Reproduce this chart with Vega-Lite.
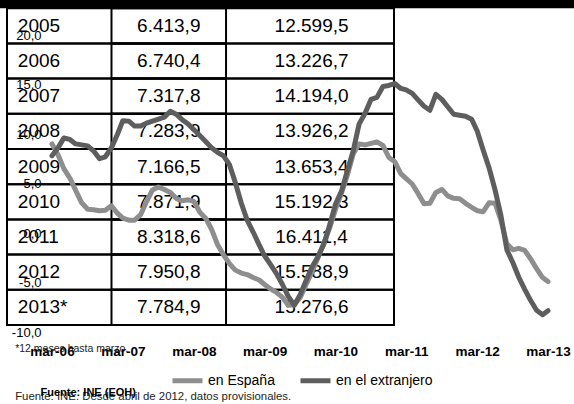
{
  "$schema": "https://vega.github.io/schema/vega-lite/v6.json",
  "width": 496,
  "height": 297,
  "autosize": {"type": "none"},
  "padding": {"left": 52, "top": 35, "right": 26, "bottom": 72},
  "background": "white",
  "config": {"view": {"stroke": null}},
  "datasets": {
    "tabla": [
      {"periodo": "2005", "espana": "6.413,9", "extranjero": "12.599,5"},
      {"periodo": "2006", "espana": "6.740,4", "extranjero": "13.226,7"},
      {"periodo": "2007", "espana": "7.317,8", "extranjero": "14.194,0"},
      {"periodo": "2008", "espana": "7.283,9", "extranjero": "13.926,2"},
      {"periodo": "2009", "espana": "7.166,5", "extranjero": "13.653,4"},
      {"periodo": "2010", "espana": "7.871,9", "extranjero": "15.192,3"},
      {"periodo": "2011", "espana": "8.318,6", "extranjero": "16.411,4"},
      {"periodo": "2012", "espana": "7.950,8", "extranjero": "15.588,9"},
      {"periodo": "2013*", "espana": "7.784,9", "extranjero": "15.276,6"}
    ],
    "series": [
      {"mes": "2006-03", "serie": "en España", "valor": 9.0},
      {"mes": "2006-04", "serie": "en España", "valor": 7.9},
      {"mes": "2006-05", "serie": "en España", "valor": 6.5},
      {"mes": "2006-06", "serie": "en España", "valor": 5.55},
      {"mes": "2006-07", "serie": "en España", "valor": 4.3},
      {"mes": "2006-08", "serie": "en España", "valor": 3.05},
      {"mes": "2006-09", "serie": "en España", "valor": 2.4},
      {"mes": "2006-10", "serie": "en España", "valor": 2.35},
      {"mes": "2006-11", "serie": "en España", "valor": 2.25},
      {"mes": "2006-12", "serie": "en España", "valor": 2.3},
      {"mes": "2007-01", "serie": "en España", "valor": 2.75},
      {"mes": "2007-02", "serie": "en España", "valor": 2.0},
      {"mes": "2007-03", "serie": "en España", "valor": 1.5},
      {"mes": "2007-04", "serie": "en España", "valor": 1.3},
      {"mes": "2007-05", "serie": "en España", "valor": 1.3},
      {"mes": "2007-06", "serie": "en España", "valor": 1.85},
      {"mes": "2007-07", "serie": "en España", "valor": 3.15},
      {"mes": "2007-08", "serie": "en España", "valor": 4.35},
      {"mes": "2007-09", "serie": "en España", "valor": 4.65},
      {"mes": "2007-10", "serie": "en España", "valor": 4.4},
      {"mes": "2007-11", "serie": "en España", "valor": 4.1},
      {"mes": "2007-12", "serie": "en España", "valor": 3.5},
      {"mes": "2008-01", "serie": "en España", "valor": 3.25},
      {"mes": "2008-02", "serie": "en España", "valor": 3.35},
      {"mes": "2008-03", "serie": "en España", "valor": 3.2},
      {"mes": "2008-04", "serie": "en España", "valor": 2.1},
      {"mes": "2008-05", "serie": "en España", "valor": 1.5},
      {"mes": "2008-06", "serie": "en España", "valor": 0.35},
      {"mes": "2008-07", "serie": "en España", "valor": -1.15},
      {"mes": "2008-08", "serie": "en España", "valor": -2.2},
      {"mes": "2008-09", "serie": "en España", "valor": -3.1},
      {"mes": "2008-10", "serie": "en España", "valor": -3.75},
      {"mes": "2008-11", "serie": "en España", "valor": -4.05},
      {"mes": "2008-12", "serie": "en España", "valor": -4.2},
      {"mes": "2009-01", "serie": "en España", "valor": -4.5},
      {"mes": "2009-02", "serie": "en España", "valor": -4.75},
      {"mes": "2009-03", "serie": "en España", "valor": -5.2},
      {"mes": "2009-04", "serie": "en España", "valor": -5.65},
      {"mes": "2009-05", "serie": "en España", "valor": -6.0},
      {"mes": "2009-06", "serie": "en España", "valor": -6.5},
      {"mes": "2009-07", "serie": "en España", "valor": -7.3},
      {"mes": "2009-08", "serie": "en España", "valor": -7.25},
      {"mes": "2009-09", "serie": "en España", "valor": -6.5},
      {"mes": "2009-10", "serie": "en España", "valor": -5.2},
      {"mes": "2009-11", "serie": "en España", "valor": -3.9},
      {"mes": "2009-12", "serie": "en España", "valor": -2.5},
      {"mes": "2010-01", "serie": "en España", "valor": -1.0},
      {"mes": "2010-02", "serie": "en España", "valor": 0.6},
      {"mes": "2010-03", "serie": "en España", "valor": 2.35},
      {"mes": "2010-04", "serie": "en España", "valor": 4.0},
      {"mes": "2010-05", "serie": "en España", "valor": 5.8},
      {"mes": "2010-06", "serie": "en España", "valor": 8.0},
      {"mes": "2010-07", "serie": "en España", "valor": 9.0},
      {"mes": "2010-08", "serie": "en España", "valor": 8.9},
      {"mes": "2010-09", "serie": "en España", "valor": 9.05},
      {"mes": "2010-10", "serie": "en España", "valor": 9.2},
      {"mes": "2010-11", "serie": "en España", "valor": 8.85},
      {"mes": "2010-12", "serie": "en España", "valor": 7.65},
      {"mes": "2011-01", "serie": "en España", "valor": 7.2},
      {"mes": "2011-02", "serie": "en España", "valor": 6.0},
      {"mes": "2011-03", "serie": "en España", "valor": 5.5},
      {"mes": "2011-04", "serie": "en España", "valor": 4.95},
      {"mes": "2011-05", "serie": "en España", "valor": 4.0},
      {"mes": "2011-06", "serie": "en España", "valor": 2.95},
      {"mes": "2011-07", "serie": "en España", "valor": 3.0},
      {"mes": "2011-08", "serie": "en España", "valor": 4.1},
      {"mes": "2011-09", "serie": "en España", "valor": 4.4},
      {"mes": "2011-10", "serie": "en España", "valor": 3.75},
      {"mes": "2011-11", "serie": "en España", "valor": 3.5},
      {"mes": "2011-12", "serie": "en España", "valor": 3.45},
      {"mes": "2012-01", "serie": "en España", "valor": 3.0},
      {"mes": "2012-02", "serie": "en España", "valor": 2.6},
      {"mes": "2012-03", "serie": "en España", "valor": 2.25},
      {"mes": "2012-04", "serie": "en España", "valor": 2.15},
      {"mes": "2012-05", "serie": "en España", "valor": 3.05},
      {"mes": "2012-06", "serie": "en España", "valor": 3.0},
      {"mes": "2012-07", "serie": "en España", "valor": 1.3},
      {"mes": "2012-08", "serie": "en España", "valor": -1.1},
      {"mes": "2012-09", "serie": "en España", "valor": -1.7},
      {"mes": "2012-10", "serie": "en España", "valor": -1.55},
      {"mes": "2012-11", "serie": "en España", "valor": -1.75},
      {"mes": "2012-12", "serie": "en España", "valor": -2.6},
      {"mes": "2013-01", "serie": "en España", "valor": -3.6},
      {"mes": "2013-02", "serie": "en España", "valor": -4.5},
      {"mes": "2013-03", "serie": "en España", "valor": -4.9},
      {"mes": "2006-03", "serie": "en el extranjero", "valor": 7.8},
      {"mes": "2006-04", "serie": "en el extranjero", "valor": 8.6},
      {"mes": "2006-05", "serie": "en el extranjero", "valor": 9.6},
      {"mes": "2006-06", "serie": "en el extranjero", "valor": 9.45},
      {"mes": "2006-07", "serie": "en el extranjero", "valor": 9.0},
      {"mes": "2006-08", "serie": "en el extranjero", "valor": 8.9},
      {"mes": "2006-09", "serie": "en el extranjero", "valor": 8.8},
      {"mes": "2006-10", "serie": "en el extranjero", "valor": 8.3},
      {"mes": "2006-11", "serie": "en el extranjero", "valor": 7.5},
      {"mes": "2006-12", "serie": "en el extranjero", "valor": 7.7},
      {"mes": "2007-01", "serie": "en el extranjero", "valor": 8.6},
      {"mes": "2007-02", "serie": "en el extranjero", "valor": 9.95},
      {"mes": "2007-03", "serie": "en el extranjero", "valor": 11.35},
      {"mes": "2007-04", "serie": "en el extranjero", "valor": 11.3},
      {"mes": "2007-05", "serie": "en el extranjero", "valor": 10.8},
      {"mes": "2007-06", "serie": "en el extranjero", "valor": 10.8},
      {"mes": "2007-07", "serie": "en el extranjero", "valor": 11.1},
      {"mes": "2007-08", "serie": "en el extranjero", "valor": 11.3},
      {"mes": "2007-09", "serie": "en el extranjero", "valor": 11.5},
      {"mes": "2007-10", "serie": "en el extranjero", "valor": 11.7},
      {"mes": "2007-11", "serie": "en el extranjero", "valor": 12.3},
      {"mes": "2007-12", "serie": "en el extranjero", "valor": 12.0},
      {"mes": "2008-01", "serie": "en el extranjero", "valor": 11.45},
      {"mes": "2008-02", "serie": "en el extranjero", "valor": 11.0},
      {"mes": "2008-03", "serie": "en el extranjero", "valor": 10.45},
      {"mes": "2008-04", "serie": "en el extranjero", "valor": 9.85},
      {"mes": "2008-05", "serie": "en el extranjero", "valor": 9.25},
      {"mes": "2008-06", "serie": "en el extranjero", "valor": 8.6},
      {"mes": "2008-07", "serie": "en el extranjero", "valor": 8.15},
      {"mes": "2008-08", "serie": "en el extranjero", "valor": 7.8},
      {"mes": "2008-09", "serie": "en el extranjero", "valor": 6.9},
      {"mes": "2008-10", "serie": "en el extranjero", "valor": 5.1},
      {"mes": "2008-11", "serie": "en el extranjero", "valor": 3.0},
      {"mes": "2008-12", "serie": "en el extranjero", "valor": 1.3},
      {"mes": "2009-01", "serie": "en el extranjero", "valor": 0.1},
      {"mes": "2009-02", "serie": "en el extranjero", "valor": -1.2},
      {"mes": "2009-03", "serie": "en el extranjero", "valor": -2.3},
      {"mes": "2009-04", "serie": "en el extranjero", "valor": -3.2},
      {"mes": "2009-05", "serie": "en el extranjero", "valor": -4.1},
      {"mes": "2009-06", "serie": "en el extranjero", "valor": -5.2},
      {"mes": "2009-07", "serie": "en el extranjero", "valor": -6.4},
      {"mes": "2009-08", "serie": "en el extranjero", "valor": -7.3},
      {"mes": "2009-09", "serie": "en el extranjero", "valor": -6.2},
      {"mes": "2009-10", "serie": "en el extranjero", "valor": -4.8},
      {"mes": "2009-11", "serie": "en el extranjero", "valor": -3.4},
      {"mes": "2009-12", "serie": "en el extranjero", "valor": -2.4},
      {"mes": "2010-01", "serie": "en el extranjero", "valor": -1.1},
      {"mes": "2010-02", "serie": "en el extranjero", "valor": 0.9},
      {"mes": "2010-03", "serie": "en el extranjero", "valor": 2.9},
      {"mes": "2010-04", "serie": "en el extranjero", "valor": 4.2},
      {"mes": "2010-05", "serie": "en el extranjero", "valor": 6.25},
      {"mes": "2010-06", "serie": "en el extranjero", "valor": 8.3},
      {"mes": "2010-07", "serie": "en el extranjero", "valor": 11.0},
      {"mes": "2010-08", "serie": "en el extranjero", "valor": 12.1},
      {"mes": "2010-09", "serie": "en el extranjero", "valor": 13.5},
      {"mes": "2010-10", "serie": "en el extranjero", "valor": 13.7},
      {"mes": "2010-11", "serie": "en el extranjero", "valor": 14.8},
      {"mes": "2010-12", "serie": "en el extranjero", "valor": 14.9},
      {"mes": "2011-01", "serie": "en el extranjero", "valor": 15.1},
      {"mes": "2011-02", "serie": "en el extranjero", "valor": 14.6},
      {"mes": "2011-03", "serie": "en el extranjero", "valor": 14.45},
      {"mes": "2011-04", "serie": "en el extranjero", "valor": 14.1},
      {"mes": "2011-05", "serie": "en el extranjero", "valor": 13.45},
      {"mes": "2011-06", "serie": "en el extranjero", "valor": 12.8},
      {"mes": "2011-07", "serie": "en el extranjero", "valor": 12.4},
      {"mes": "2011-08", "serie": "en el extranjero", "valor": 14.0},
      {"mes": "2011-09", "serie": "en el extranjero", "valor": 13.5},
      {"mes": "2011-10", "serie": "en el extranjero", "valor": 12.75},
      {"mes": "2011-11", "serie": "en el extranjero", "valor": 12.0},
      {"mes": "2011-12", "serie": "en el extranjero", "valor": 11.9},
      {"mes": "2012-01", "serie": "en el extranjero", "valor": 11.8},
      {"mes": "2012-02", "serie": "en el extranjero", "valor": 11.5},
      {"mes": "2012-03", "serie": "en el extranjero", "valor": 10.3},
      {"mes": "2012-04", "serie": "en el extranjero", "valor": 8.35},
      {"mes": "2012-05", "serie": "en el extranjero", "valor": 6.6},
      {"mes": "2012-06", "serie": "en el extranjero", "valor": 4.35},
      {"mes": "2012-07", "serie": "en el extranjero", "valor": 1.8},
      {"mes": "2012-08", "serie": "en el extranjero", "valor": -1.7},
      {"mes": "2012-09", "serie": "en el extranjero", "valor": -3.0},
      {"mes": "2012-10", "serie": "en el extranjero", "valor": -4.45},
      {"mes": "2012-11", "serie": "en el extranjero", "valor": -5.7},
      {"mes": "2012-12", "serie": "en el extranjero", "valor": -6.8},
      {"mes": "2013-01", "serie": "en el extranjero", "valor": -7.8},
      {"mes": "2013-02", "serie": "en el extranjero", "valor": -8.25},
      {"mes": "2013-03", "serie": "en el extranjero", "valor": -7.85}
    ]
  },
  "resolve": {"scale": {"x": "independent", "y": "independent"}},
  "layer": [
    {
      "data": {"name": "tabla"},
      "encoding": {
        "y": {
          "field": "periodo",
          "type": "nominal",
          "sort": null,
          "axis": null,
          "scale": {
            "domain": ["cabecera", "2005", "2006", "2007", "2008", "2009", "2010", "2011", "2012", "2013*"],
            "range": [-62, 290],
            "paddingInner": 0,
            "paddingOuter": 0
          }
        }
      },
      "layer": [
        {
          "mark": {"type": "rect", "filled": false, "stroke": "black", "strokeWidth": 2},
          "encoding": {
            "x": {
              "datum": 0,
              "type": "quantitative",
              "axis": null,
              "scale": {"domain": [0, 100], "range": [-45, 342], "nice": false, "zero": false}
            },
            "x2": {"datum": 100}
          }
        },
        {
          "mark": {"type": "rect", "filled": false, "stroke": "black", "strokeWidth": 2},
          "encoding": {
            "x": {"datum": 27, "type": "quantitative"},
            "x2": {"datum": 56.6}
          }
        },
        {
          "data": {"values": [{}]},
          "mark": {"type": "rect", "color": "black"},
          "encoding": {
            "y": {"datum": "cabecera", "type": "nominal"},
            "x": {"datum": -20, "type": "quantitative"},
            "x2": {"datum": 160}
          }
        },
        {
          "mark": {"type": "text", "align": "left", "baseline": "middle", "font": "Liberation Sans", "fontSize": 19, "color": "black"},
          "encoding": {
            "x": {"datum": 2.8, "type": "quantitative"},
            "text": {"field": "periodo"}
          }
        },
        {
          "mark": {"type": "text", "align": "center", "baseline": "middle", "font": "Liberation Sans", "fontSize": 19, "color": "black"},
          "encoding": {
            "x": {"datum": 41.8, "type": "quantitative"},
            "text": {"field": "espana"}
          }
        },
        {
          "mark": {"type": "text", "align": "center", "baseline": "middle", "font": "Liberation Sans", "fontSize": 19, "color": "black"},
          "encoding": {
            "x": {"datum": 78.7, "type": "quantitative"},
            "text": {"field": "extranjero"}
          }
        }
      ]
    },
    {
      "layer": [
        {
          "data": {"name": "series"},
          "mark": {"type": "line", "strokeWidth": 5, "strokeJoin": "round", "strokeCap": "round"},
          "encoding": {
            "x": {
              "field": "mes",
              "type": "temporal",
              "scale": {
                "type": "utc",
                "domain": [
                  {"year": 2006, "month": 3, "date": 1, "utc": true},
                  {"year": 2013, "month": 3, "date": 1, "utc": true}
                ]
              },
              "axis": {
                "orient": "bottom",
                "title": null,
                "values": [
                  {"year": 2006, "month": 3, "date": 1, "utc": true},
                  {"year": 2007, "month": 3, "date": 1, "utc": true},
                  {"year": 2008, "month": 3, "date": 1, "utc": true},
                  {"year": 2009, "month": 3, "date": 1, "utc": true},
                  {"year": 2010, "month": 3, "date": 1, "utc": true},
                  {"year": 2011, "month": 3, "date": 1, "utc": true},
                  {"year": 2012, "month": 3, "date": 1, "utc": true},
                  {"year": 2013, "month": 3, "date": 1, "utc": true}
                ],
                "labelExpr": "'mar-' + utcFormat(datum.value, '%y')",
                "grid": false,
                "domain": false,
                "ticks": false,
                "labelPadding": 12,
                "labelFlush": false,
                "labelBound": false,
                "labelOverlap": false,
                "labelFont": "Liberation Sans",
                "labelFontSize": 13.5,
                "labelFontWeight": "bold",
                "labelColor": "black"
              }
            },
            "y": {
              "field": "valor",
              "type": "quantitative",
              "scale": {"domain": [-10, 20], "nice": false, "zero": false},
              "axis": {
                "orient": "left",
                "title": null,
                "values": [-10, -5, 0, 5, 10, 15, 20],
                "labelExpr": "datum.value + ',0'",
                "domain": false,
                "ticks": false,
                "labelPadding": 11,
                "labelFont": "Liberation Sans",
                "labelFontSize": 13,
                "labelColor": "black",
                "gridColor": "#c8c8c8",
                "gridWidth": 1.5
              }
            },
            "color": {
              "field": "serie",
              "type": "nominal",
              "sort": ["en España", "en el extranjero"],
              "scale": {"domain": ["en España", "en el extranjero"], "range": ["#8e8e8e", "#5e5e5e"]},
              "legend": {
                "title": null,
                "orient": "none",
                "direction": "horizontal",
                "legendX": 118,
                "legendY": 328,
                "symbolType": "stroke",
                "symbolStrokeWidth": 5,
                "symbolSize": 900,
                "labelFont": "Liberation Sans",
                "labelFontSize": 14,
                "labelColor": "black",
                "labelOffset": 3,
                "columnPadding": 15
              }
            }
          }
        },
        {
          "data": {"values": [{"nota": "*12 meses hasta marzo."}]},
          "mark": {"type": "text", "align": "left", "baseline": "middle", "font": "Liberation Sans", "fontSize": 10.5, "color": "#222222"},
          "encoding": {
            "x": {"datum": {"year": 2005, "month": 8, "date": 23, "utc": true}, "type": "temporal"},
            "y": {"datum": -11.7, "type": "quantitative"},
            "text": {"field": "nota"}
          }
        },
        {
          "data": {"values": [{"nota": "Fuente: INE. Desde abril de 2012, datos provisionales."}]},
          "mark": {"type": "text", "align": "left", "baseline": "middle", "font": "Liberation Sans", "fontSize": 11.4, "color": "#222222"},
          "encoding": {
            "x": {"datum": {"year": 2005, "month": 8, "date": 23, "utc": true}, "type": "temporal"},
            "y": {"datum": -16.55, "type": "quantitative"},
            "text": {"field": "nota"}
          }
        },
        {
          "data": {"values": [{"nota": "Fuente: INE (EOH)"}]},
          "mark": {"type": "text", "align": "left", "baseline": "middle", "font": "Liberation Sans", "fontSize": 11, "fontWeight": "bold", "color": "black"},
          "encoding": {
            "x": {"datum": {"year": 2006, "month": 1, "date": 1, "utc": true}, "type": "temporal"},
            "y": {"datum": -16.15, "type": "quantitative"},
            "text": {"field": "nota"}
          }
        }
      ]
    }
  ]
}
